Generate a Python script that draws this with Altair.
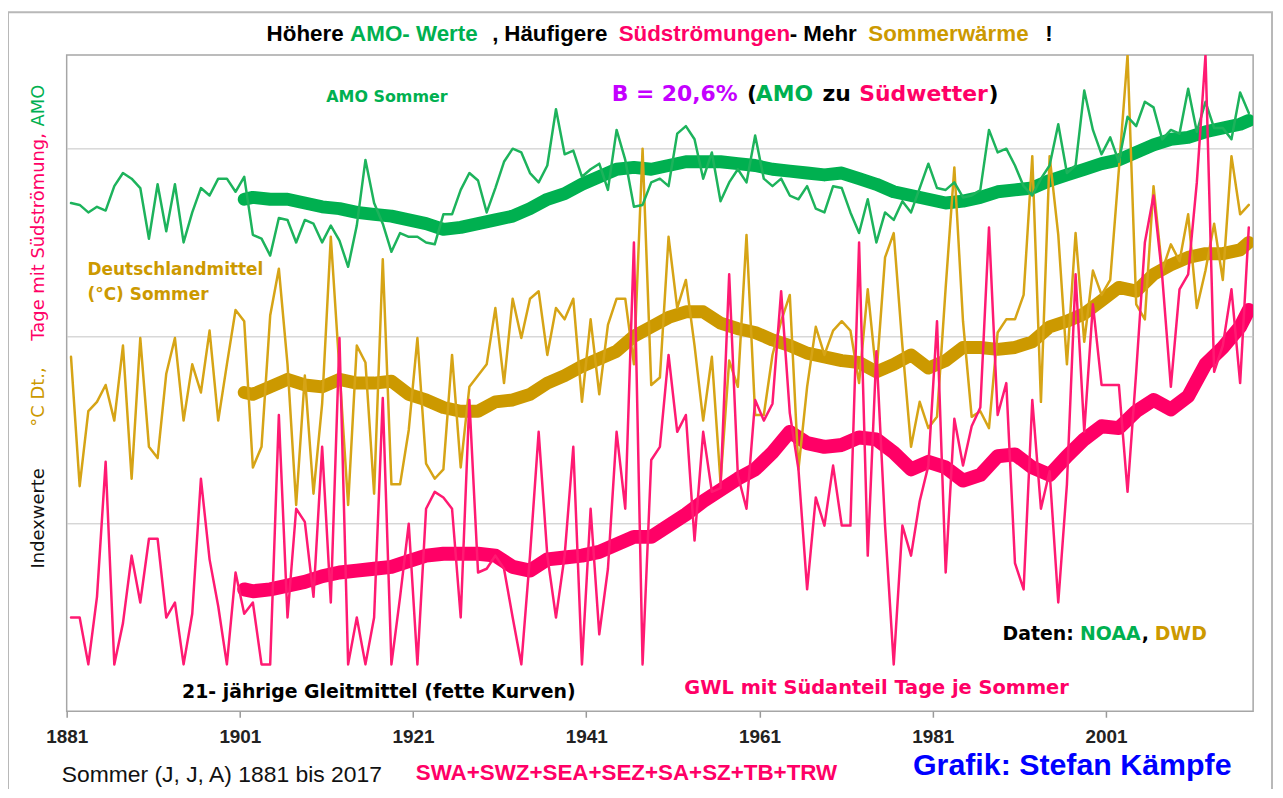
import altair as alt
import pandas as pd

# ---------------- data (index units) ----------------
years = list(range(1881, 2018))

amo = [271, 270, 266, 269, 267, 280, 287, 284, 279, 252,
       281, 256, 281, 250, 266, 279, 275, 284, 284, 277,
       285, 254, 252, 243, 263, 262, 250, 262, 260, 250,
       259, 251, 237, 259, 294, 271, 260, 245, 255, 253,
       253, 250, 249, 265, 265, 278, 287, 283, 266, 279,
       293, 300, 298, 287, 282, 291, 321, 297, 299, 285,
       289, 292, 278, 310, 294, 269, 270, 282, 284, 280,
       308, 312, 305, 284, 298, 272, 282, 289, 282, 307,
       284, 280, 284, 275, 273, 280, 268, 266, 280, 279,
       266, 255, 273, 250, 266, 262, 272, 266, 279, 292,
       279, 278, 282, 274, 275, 278, 310, 298, 300, 291,
       280, 275, 284, 291, 313, 287, 291, 331, 310, 297,
       306, 293, 317, 312, 325, 322, 305, 310, 308, 332,
       309, 325, 311, 311, 305, 330, 319]

temp = [189, 120, 160, 165, 174, 155, 195, 124, 199, 141,
        135, 180, 199, 155, 185, 170, 203, 155, 185, 214,
        208, 130, 141, 211, 236, 185, 110, 179, 116, 164,
        253, 182, 110, 195, 186, 116, 241, 121, 121, 150,
        199, 132, 124, 129, 190, 130, 173, 179, 185, 215,
        175, 220, 199, 220, 224, 190, 215, 209, 220, 165,
        209, 169, 206, 220, 220, 185, 300, 174, 178, 253,
        215, 230, 195, 155, 189, 122, 187, 173, 254, 158,
        158, 190, 208, 222, 129, 173, 205, 190, 203, 208,
        203, 175, 225, 179, 242, 255, 195, 141, 165, 151,
        157, 226, 290, 208, 157, 160, 151, 202, 209, 209,
        222, 296, 165, 296, 254, 185, 255, 197, 235, 222,
        230, 289, 350, 217, 209, 280, 235, 249, 240, 265,
        215, 235, 260, 230, 296, 265, 270]

sued = [50, 50, 25, 61, 133, 25, 47, 83, 58, 92,
        92, 50, 58, 25, 52, 124, 81, 56, 25, 74,
        52, 58, 25, 25, 158, 50, 108, 101, 61, 141,
        58, 199, 25, 50, 25, 50, 167, 25, 61, 100,
        25, 108, 117, 114, 108, 50, 166, 74, 76, 83,
        76, 50, 25, 83, 149, 83, 50, 83, 141, 25,
        108, 41, 76, 149, 108, 250, 25, 134, 141, 190,
        149, 158, 91, 149, 117, 119, 233, 126, 108, 166,
        155, 164, 224, 159, 129, 65, 114, 99, 131, 99,
        99, 250, 83, 192, 99, 25, 99, 83, 112, 131,
        208, 74, 156, 131, 152, 162, 258, 158, 175, 79,
        65, 166, 108, 128, 58, 121, 233, 149, 217, 174,
        174, 174, 117, 181, 250, 275, 232, 173, 225, 233,
        282, 350, 181, 195, 225, 175, 258]

# 21-year running means as drawn (fette Kurven)
smooth_years = [1901, 1902, 1904, 1906, 1908, 1910, 1912, 1914, 1916, 1918,
                1920, 1922, 1924, 1926, 1928, 1930, 1932, 1934, 1936, 1938,
                1940, 1942, 1944, 1946, 1948, 1950, 1952, 1954, 1956, 1958,
                1960, 1962, 1964, 1966, 1968, 1970, 1972, 1974, 1976, 1978,
                1980, 1982, 1984, 1986, 1988, 1990, 1992, 1994, 1996, 1998,
                2000, 2002, 2004, 2006, 2008, 2010, 2012, 2014, 2016, 2017]

amo_smooth = [273, 274, 273, 273, 271, 269, 268, 266, 265, 264,
              262, 260, 257, 258, 260, 262, 264, 268, 273, 276,
              281, 285, 289, 290, 289, 291, 293, 293, 293, 292,
              291, 289, 288, 287, 286, 287, 284, 281, 277, 275,
              273, 271, 272, 274, 277, 278, 279, 283, 286, 289,
              292, 294, 298, 302, 305, 306, 309, 311, 313, 315]

temp_smooth = [170, 169, 173, 177, 174, 173, 177, 175, 175, 176,
               169, 166, 162, 160, 160, 165, 166, 169, 175, 179,
               184, 188, 192, 200, 205, 210, 213, 213, 207, 204,
               202, 198, 195, 191, 189, 187, 186, 181, 185, 190,
               183, 187, 194, 194, 193, 194, 197, 205, 208, 212,
               219, 226, 224, 233, 238, 242, 244, 244, 246, 250]

sued_smooth = [65, 64, 65, 67, 69, 72, 74, 75, 76, 77,
               80, 83, 84, 84, 84, 83, 77, 75, 81, 82,
               83, 85, 89, 93, 93, 99, 105, 112, 118, 124,
               129, 138, 149, 143, 141, 142, 146, 145, 138, 129,
               133, 130, 123, 126, 136, 137, 130, 126, 136, 145,
               152, 151, 160, 166, 161, 168, 185, 194, 205, 214]

tick_years = [1881, 1901, 1921, 1941, 1961, 1981, 2001]
grid_values = [100, 200, 300]

assert len(amo) == len(temp) == len(sued) == len(years)
assert len(amo_smooth) == len(temp_smooth) == len(sued_smooth) == len(smooth_years)

raw = pd.DataFrame({"year": years, "amo": amo, "temp": temp, "sued": sued})
smooth = pd.DataFrame({"year": smooth_years, "amo": amo_smooth,
                       "temp": temp_smooth, "sued": sued_smooth})

# ---------------- styles ----------------
GREEN_THIN, GREEN = "#1db35c", "#00b050"
GOLD_THIN, GOLD = "#d6a416", "#cc9900"
PINK_THIN, PINK = "#ff1a72", "#ff0066"
PURPLE, BLUE = "#c400ff", "#0000ff"

W, H = 1193, 660
xs = alt.Scale(domain=[1881, 2018], nice=False, zero=False)
ys = alt.Scale(domain=[0, 350], nice=False, zero=False)

x_axis = alt.Axis(values=tick_years, format="d", title=None, grid=False,
                  domain=False, ticks=True, tickSize=6, tickColor="#9a9a9a",
                  tickWidth=1.5, labelFont="Liberation Sans", labelFontWeight="bold",
                  labelFontSize=19, labelColor="#222222", labelPadding=10,
                  labelFlush=False, labelOverlap=False, orient="bottom")
y_axis = alt.Axis(values=grid_values, title=None, grid=True, gridColor="#c4c4c4",
                  gridWidth=1, labels=False, ticks=False, domain=False)


def series(df, field, color, width):
    return (alt.Chart(df)
            .transform_calculate(pos="datum.year + 0.5")
            .mark_line(color=color, strokeWidth=width, strokeJoin="round",
                       strokeCap="round", clip=True)
            .encode(x=alt.X("pos:Q", scale=xs, axis=x_axis),
                    y=alt.Y(f"{field}:Q", scale=ys, axis=y_axis)))


def txt(s, x, y, color, size, font="DejaVu Sans", weight="bold", angle=0,
        align="left"):
    return (alt.Chart(alt.Data(values=[{"k": 1}]))
            .mark_text(text=s, font=font, fontWeight=weight, fontSize=size,
                       color=color, align=align, baseline="middle", angle=angle)
            .encode(x=alt.value(x), y=alt.value(y)))


layers = [
    series(smooth, "temp", GOLD, 13),
    series(smooth, "amo", GREEN, 13),
    series(smooth, "sued", PINK, 14),
    series(raw, "temp", GOLD_THIN, 2.5),
    series(raw, "amo", GREEN_THIN, 2.5),
    series(raw, "sued", PINK_THIN, 2.5),
]

# outer picture frame
layers.append(alt.Chart(alt.Data(values=[{"k": 1}]))
              .mark_rect(filled=False, stroke="#b8b8b8", strokeWidth=2)
              .encode(x=alt.value(-59), x2=alt.value(1212),
                      y=alt.value(-43), y2=alt.value(800)))

# title (multi-coloured)
TF, TS, TY, TW = "Liberation Sans", 22.5, -21, "bold"
layers += [
    txt("Höhere", 201, TY, "#000000", TS, TF, TW),
    txt("AMO- Werte", 285, TY, GREEN, TS, TF, TW),
    txt(",", 428, TY, "#000000", TS, TF, TW),
    txt("Häufigere", 440, TY, "#000000", TS, TF, TW),
    txt("Südströmungen", 555, TY, PINK, TS, TF, TW),
    txt("- Mehr", 727, TY, "#000000", TS, TF, TW),
    txt("Sommerwärme", 806, TY, GOLD, TS, TF, TW),
    txt("!", 984, TY, "#000000", TS, TF, TW),
]

# y title (rotated, multi-coloured)
YX = -28
layers += [
    txt("Indexwerte", YX, 466, "#111111", 18, "DejaVu Sans", "normal", 270, "center"),
    txt("°C Dt.,", YX, 344, GOLD, 18, "DejaVu Sans", "normal", 270, "center"),
    txt("Tage mit Südströmung,", YX, 183, PINK, 18, "DejaVu Sans", "normal", 270, "center"),
    txt("AMO", YX, 51, GREEN, 18, "DejaVu Sans", "normal", 270, "center"),
]

# annotations inside the plot
layers += [
    txt("AMO Sommer", 261, 42, GREEN, 16),
    txt("B = 20,6%", 548, 39, PURPLE, 22),
    txt("(", 684, 39, "#000000", 22),
    txt("AMO", 693, 39, GREEN, 22),
    txt("zu", 760, 39, "#000000", 22),
    txt("Südwetter", 797, 39, PINK, 22),
    txt(")", 927, 39, "#000000", 22),
    txt("Deutschlandmittel", 21, 216, GOLD, 17),
    txt("(°C) Sommer", 21, 241, GOLD, 17),
    txt("21- jährige Gleitmittel (fette Kurven)", 116, 641, "#000000", 19),
    txt("GWL mit Südanteil Tage je Sommer", 621, 637, PINK, 19.5),
    txt("Daten:", 941, 582, "#000000", 19),
    txt("NOAA", 1019, 582, GREEN, 19),
    txt(",", 1081, 582, "#000000", 19),
    txt("DWD", 1094, 582, GOLD, 19),
]

# texts below the axis
layers += [
    txt("Sommer (J, J, A) 1881 bis 2017", -5, 724, "#111111", 23, "Liberation Sans", "normal"),
    txt("SWA+SWZ+SEA+SEZ+SA+SZ+TB+TRW", 351, 722, PINK, 22.5, "Liberation Sans", "bold"),
    txt("Grafik: Stefan Kämpfe", 851, 715, BLUE, 30.5, "Liberation Sans", "bold"),
]

chart = (alt.layer(*layers)
         .properties(width=W, height=H,
                     padding={"left": 59, "top": 45, "right": 22, "bottom": 76},
                     autosize=alt.AutoSizeParams(type="none"),
                     background="white")
         .configure_view(stroke="#a6a6a6", strokeWidth=1.5))

chart.save("out.html", embed_options={"renderer": "svg", "actions": False})
